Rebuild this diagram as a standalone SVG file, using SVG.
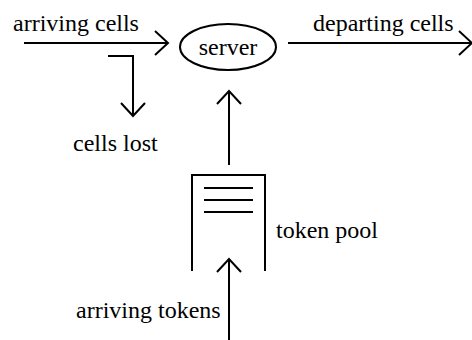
<svg xmlns="http://www.w3.org/2000/svg" width="472" height="340" viewBox="0 0 472 340">
  <defs>
    <style>
      .ln { fill: none; stroke: #000; stroke-width: 2; }
      .lbl { font-size: 24px; fill: #000; }
    </style>
    <!-- open V arrowhead -->
    <marker id="vee" viewBox="-14 -13 16 26" markerWidth="16" markerHeight="26" refX="0" refY="0" orient="auto" markerUnits="userSpaceOnUse">
      <path d="M-13,-12 L0,0 L-13,12" fill="none" stroke="#000" stroke-width="2"/>
    </marker>
  </defs>
  <rect width="472" height="340" fill="#fff"/>

  <!-- connectors -->
  <g id="connectors">
    <line class="ln" x1="24" y1="43" x2="168" y2="43" marker-end="url(#vee)"/>
    <line class="ln" x1="288" y1="43" x2="472" y2="43" marker-end="url(#vee)"/>
    <path class="ln" d="M108,56 H133 V116" marker-end="url(#vee)"/>
    <line class="ln" x1="229" y1="165" x2="229" y2="91" marker-end="url(#vee)"/>
    <line class="ln" x1="229" y1="340" x2="229" y2="259" marker-end="url(#vee)"/>
  </g>

  <g font-family="Liberation Serif">
    <!-- server -->
    <g id="server">
      <ellipse class="ln" cx="228" cy="47" rx="48" ry="23"/>
      <text class="lbl" x="228" y="55" text-anchor="middle">server</text>
    </g>

    <!-- token pool -->
    <g id="token-pool">
      <path class="ln" d="M192,271 V175 H265 V271"/>
      <path class="ln" d="M204,188 H253 M204,200 H253 M204,212 H253"/>
      <text class="lbl" x="276" y="238">token pool</text>
    </g>

    <g id="arriving-cells">
      <text class="lbl" x="13" y="31">arriving cells</text>
    </g>
    <g id="departing-cells">
      <text class="lbl" x="313" y="31">departing cells</text>
    </g>
    <g id="cells-lost">
      <text class="lbl" x="73" y="151">cells lost</text>
    </g>
    <g id="arriving-tokens">
      <text class="lbl" x="76" y="318">arriving tokens</text>
    </g>
  </g>
</svg>
